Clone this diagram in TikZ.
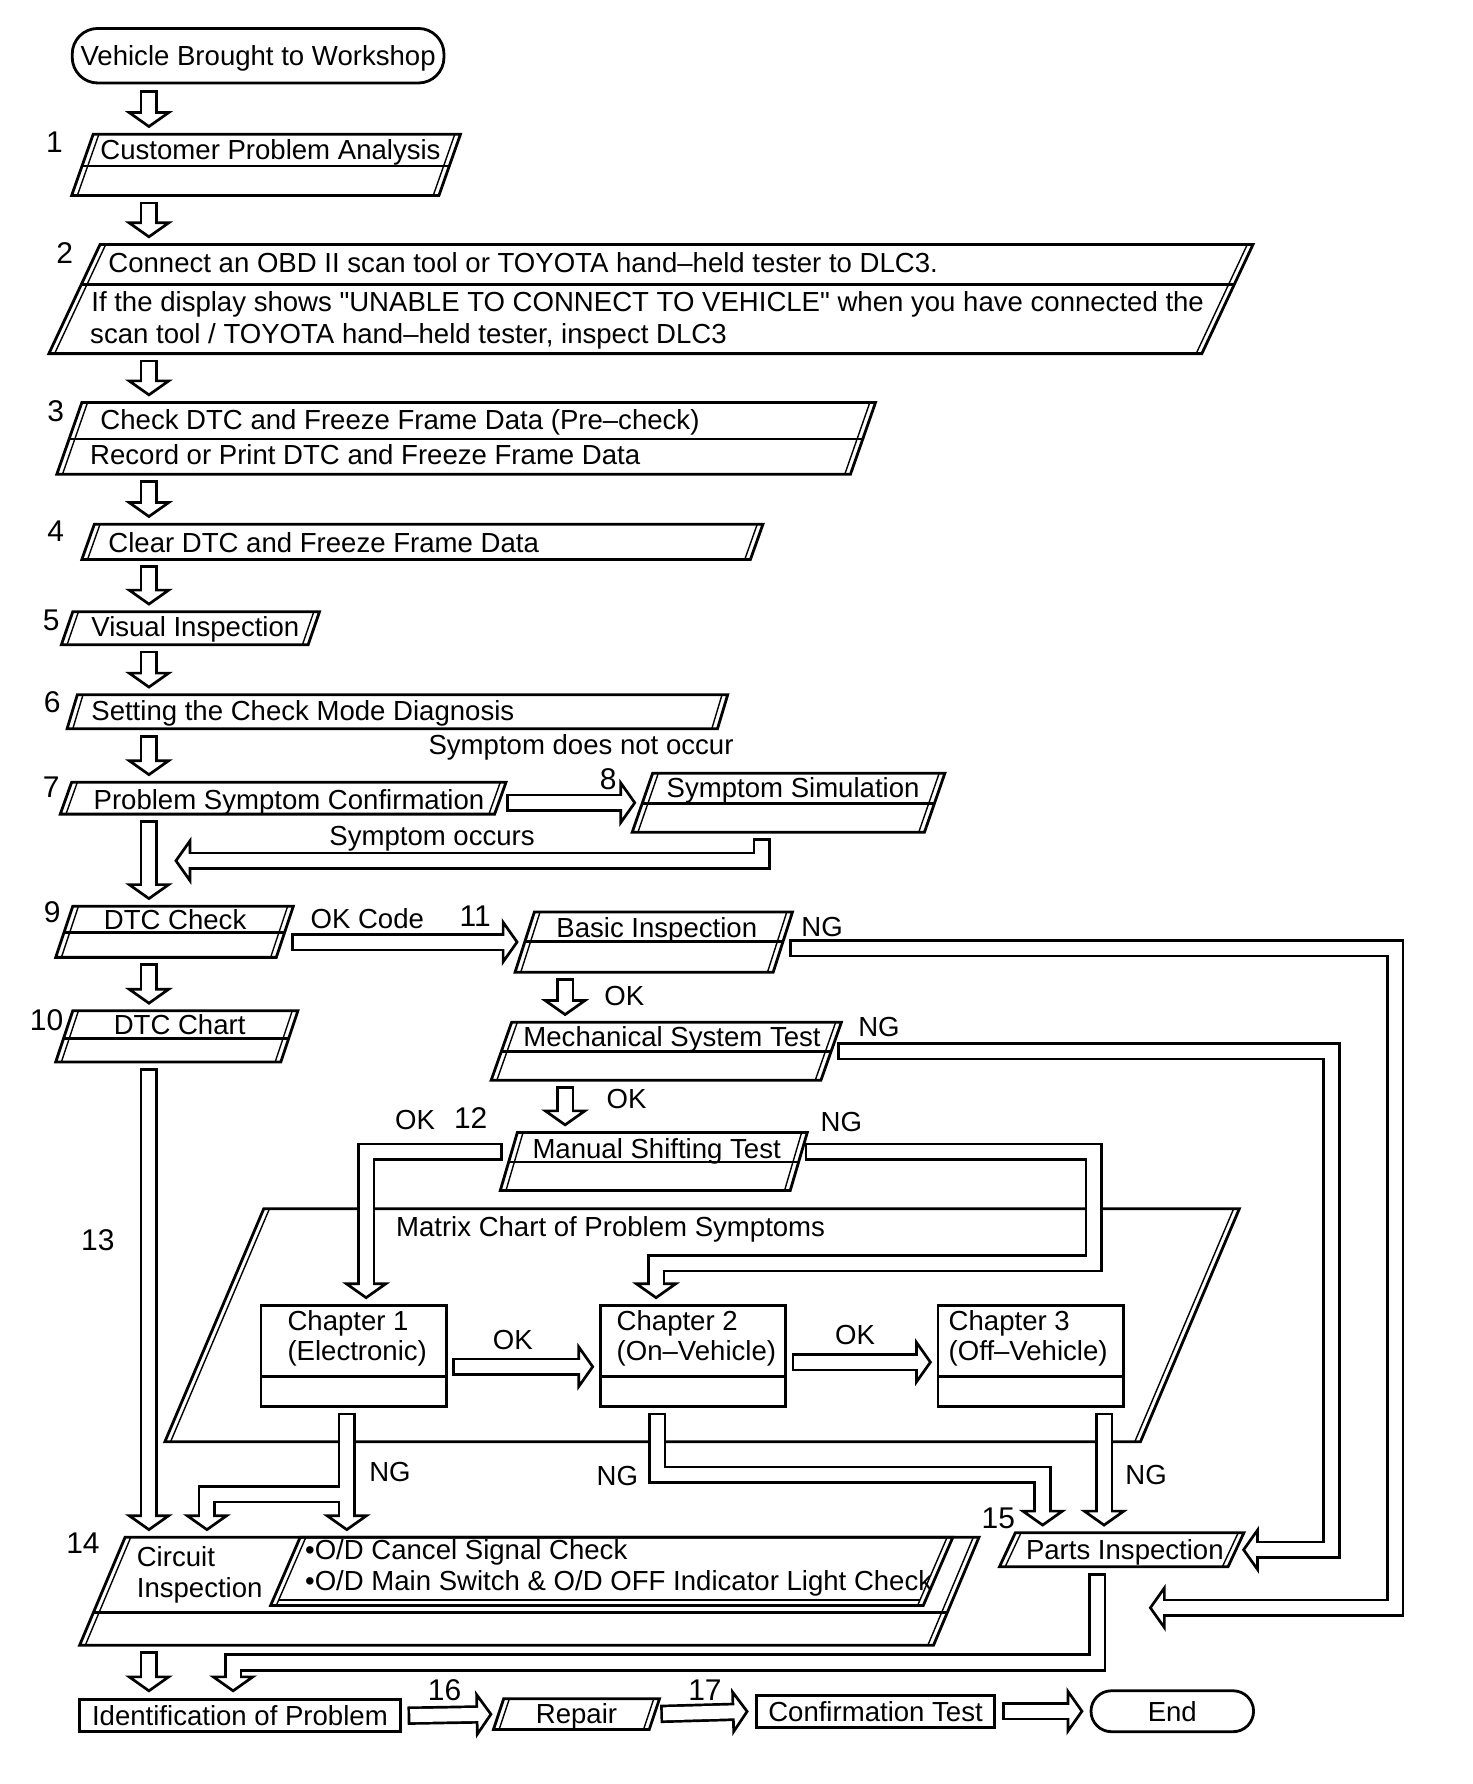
\documentclass[tikz,border=0pt]{standalone}
\usepackage{fontspec}
\setmainfont{Liberation Sans}[Ligatures=TeXOff]
\usetikzlibrary{arrows.meta,calc}

% slanted box: name, top left x, top right x, top y, bottom y, slant, divider y
\newcommand{\slbox}[7]{%
  \coordinate (#1-a) at (#2,#4);
  \coordinate (#1-b) at (#3,#4);
  \coordinate (#1-c) at (#3-#6,#5);
  \coordinate (#1-d) at (#2-#6,#5);
  \node[area, minimum width={(#3-#2)*0.02cm}, minimum height={(#5-#4)*0.02cm}] (#1) at ({(#2+#3-#6)/2},{(#4+#5)/2}) {};
  \draw[bline] (#1-a) -- (#1-b) -- (#1-c) -- (#1-d) -- cycle;
  \draw[iline] ($(#1-a)+(5,0)$) -- ($(#1-d)+(5,0)$);
  \draw[iline] ($(#1-b)+(-5,0)$) -- ($(#1-c)+(-5,0)$);
  \ifx\relax#7\relax\else
    \draw[bline] ($(#1-a)!{(#7-#4)/(#5-#4)}!(#1-d)$) -- ($(#1-b)!{(#7-#4)/(#5-#4)}!(#1-c)$);
  \fi
}
% hollow block arrow
\newcommand{\fatarrow}[1]{\draw[fatout] #1; \draw[fatin] #1;}

\begin{document}
\begin{tikzpicture}[x=0.02cm,y=-0.02cm]
\tikzset{
  area/.style={inner sep=0pt, outer sep=0pt},
  txt/.style={inner sep=0pt, anchor=west, font=\fontsize{13.8}{16}\selectfont, text height=9.9pt, text depth=0pt},
  ctr/.style={txt, anchor=center},
  num/.style={ctr, font=\fontsize{15}{17}\selectfont, text height=10.7pt},
  rbox/.style={ctr, draw, line width=1.4pt, minimum height=0.56cm},
  term/.style={rbox, rounded corners=0.36cm},
  bline/.style={line width=1.4pt},
  iline/.style={line width=0.7pt},
  fatout/.style={line width=9.2pt, shorten <=3pt, shorten >=3pt, -{Triangle[fill=white, length=8.5pt, width=23.8pt, line width=1.35pt]}},
  fatin/.style={line width=6.5pt, white, shorten <=4.35pt, shorten >=9pt},
}
\useasboundingbox (0,0) rectangle (1295,1569);

% boxes
\node[term, minimum width=6.54cm, minimum height=0.96cm, rounded corners=0.45cm] (start) at (227,49) {Vehicle Brought to Workshop};

\slbox{cpa}{82}{405}{118}{172}{19}{146}
\node[txt] (cpat) at (88,132) {Customer Problem Analysis};

\slbox{obd}{88}{1102}{215}{311}{45}{250}
\node[txt] (obd1) at (95,231) {Connect an OBD II scan tool or TOYOTA hand–held tester to DLC3.};
\node[txt] (obd2) at (80,265) {If the display shows "UNABLE TO CONNECT TO VEHICLE" when you have connected the};
\node[txt] (obd3) at (79,293) {scan tool / TOYOTA hand–held tester, inspect DLC3};

\slbox{dtcp}{72}{770}{354}{417}{22}{386}
\node[txt] (dtcp1) at (88,369) {Check DTC and Freeze Frame Data (Pre–check)};
\node[txt] (dtcp2) at (79,400) {Record or Print DTC and Freeze Frame Data};

\slbox{clr}{83}{671}{461}{492}{11}{}
\node[txt] (clrt) at (95,477) {Clear DTC and Freeze Frame Data};

\slbox{vis}{64}{281}{538}{567}{10}{}
\node[txt] (vist) at (80,551) {Visual Inspection};

\slbox{chk}{68}{640}{611}{641}{9}{}
\node[txt] (chkt) at (80,625) {Setting the Check Mode Diagnosis};

\slbox{psc}{63}{445}{688}{716}{10}{}
\node[txt] (psct) at (82,703) {Problem Symptom Confirmation};

\slbox{sim}{574}{831}{680}{732}{18}{707}
\node[txt] (simt) at (586,693) {Symptom Simulation};

\slbox{dtc}{64}{258}{797}{842}{15}{820}
\node[ctr] (dtct) at (154,809) {DTC Check};

\slbox{chart}{64}{262}{889}{934}{15}{913}
\node[ctr] (chartt) at (158,901) {DTC Chart};

\slbox{basic}{470}{697}{802}{855}{17}{828}
\node[txt] (basict) at (489,816) {Basic Inspection};

\slbox{mech}{450}{740}{899}{950}{18}{925}
\node[txt] (mecht) at (460,912) {Mechanical System Test};

\slbox{shift}{455}{710}{996}{1047}{15}{1022}
\node[txt] (shiftt) at (468,1010) {Manual Shifting Test};

\slbox{mx}{232}{1090}{1063}{1268}{87}{}
\node[txt] (mxt) at (348,1079) {Matrix Chart of Problem Symptoms};

\foreach \n/\x/\o/\a/\b in {ch1/311/23/Chapter 1/(Electronic), ch2/609.5/14/Chapter 2/(On–Vehicle), ch3/906.5/9/Chapter 3/(Off–Vehicle)} {
  \node[area, draw, line width=1.4pt, minimum width=3.26cm, minimum height=1.78cm] (\n) at (\x,1192.5) {};
  \draw[bline] ($(\n.north west)!0.7!(\n.south west)$) -- ($(\n.north east)!0.7!(\n.south east)$);
  \node[txt] (\n-a) at ($(\n.north west)+(\o,13)$) {\a};
  \node[txt] (\n-b) at ($(\n.north west)+(\o,40)$) {\b};
}

\slbox{cir}{110}{861}{1352}{1447}{40}{1418}
\node[txt] (cir1) at (120,1369) {Circuit};
\node[txt] (cir2) at (120,1396) {Inspection};
\slbox{od}{264}{838}{1352}{1412}{26}{}
\draw[iline] ($(od-d)+(7,-5)$) -- ($(od-c)+(-3,-5)$);
\node[txt] (od1) at (268,1363) {•O/D Cancel Signal Check};
\node[txt] (od2) at (268,1390) {•O/D Main Switch \& O/D OFF Indicator Light Check};

\slbox{parts}{893}{1094}{1348}{1378}{14}{}
\node[txt] (partst) at (902,1363) {Parts Inspection};

\node[rbox, minimum width=5.64cm] (id) at (211,1509) {Identification of Problem};
\slbox{rep}{443}{580}{1494}{1521}{9}{}
\node[ctr] (rept) at (507,1507) {Repair};
\node[rbox, minimum width=4.2cm] (conf) at (770,1505) {Confirmation Test};
\node[term, minimum width=2.86cm, minimum height=0.72cm] (stop) at (1031,1505) {End};

% step numbers
\foreach \t/\x/\y in {1/48/125, 2/57/222, 3/49/361, 4/49/467, 5/45/545, 6/46/617, 7/45/692, 8/535/685, 9/46/802, 10/41/897, 11/418/805, 12/414/983, 13/86/1090, 14/73/1357, 15/878/1335, 16/391/1486, 17/620/1486}
  \node[num] (n\t) at (\x,\y) {\t};

% branch labels
\foreach \n/\t/\x/\y in {lnot/Symptom does not occur/511/655, locc/Symptom occurs/380/735, okc/OK Code/323/808, ok1/OK/549/876, ok2/OK/551/966, ok3/OK/365/985, ng1/NG/723/815, ng2/NG/773/903, ng3/NG/740/986, ok4/OK/451/1178, ok5/OK/752/1174, ng4/NG/343/1294, ng5/NG/543/1298, ng6/NG/1008/1297}
  \node[ctr] (\n) at (\x,\y) {\t};

% arrows
\coordinate (lc) at (131,0);
\coordinate (mc) at (497,0);
\fatarrow{(start.south -| lc) -- (cpa.north -| lc)}
\fatarrow{(cpa.south -| lc) -- (obd.north -| lc)}
\fatarrow{(obd.south -| lc) -- (dtcp.north -| lc)}
\fatarrow{(dtcp.south -| lc) -- (clr.north -| lc)}
\fatarrow{(clr.south -| lc) -- (vis.north -| lc)}
\fatarrow{(vis.south -| lc) -- (chk.north -| lc)}
\fatarrow{(chk.south -| lc) -- (psc.north -| lc)}
\fatarrow{(psc.south -| lc) -- (dtc.north -| lc)}
\fatarrow{(dtc.south -| lc) -- (chart.north -| lc)}
\fatarrow{(chart.south -| lc) -- (cir.north -| lc)}
\fatarrow{(cir.south -| lc) -- (id.north -| lc)}

\fatarrow{(sim.west -| psc.east) -- (sim.west)}
\coordinate (occ) at (670,757);
\fatarrow{(sim.south -| occ) -- (occ) -- ($(occ -| lc)+(17,0)$)}

\fatarrow{(dtc.east |- basic.west) -- (basic.west)}
\fatarrow{(basic.south -| mc) -- (mech.north -| mc)}
\fatarrow{(mech.south -| mc) -- (shift.north -| mc)}

\coordinate (pi) at (965,1462);
\coordinate (pi2) at (205,1462);
\coordinate (ngb) at (1227,834);
\coordinate (ngb2) at (1227,1414);
\fatarrow{(ngb -| basic.east) -- (ngb) -- (ngb2) -- ($(ngb2 -| pi)+(40,0)$)}
\coordinate (ngm) at (1171,1363);
\fatarrow{(mech.east) -| (ngm) -- (parts.east)}

\coordinate (oks) at (322,1013);
\fatarrow{(oks -| shift.west) -- (oks) -- (oks |- ch1.north)}
\coordinate (ngs) at (962,1013);
\coordinate (ngs2) at (577,1111);
\fatarrow{(ngs -| shift.east) -- (ngs) |- (ngs2) -- (ngs2 |- ch2.north)}

\fatarrow{($(ch1.east)+(0,9.5)$) -- ($(ch2.west)+(0,9.5)$)}
\fatarrow{($(ch2.east)+(0,5.5)$) -- ($(ch3.west)+(0,5.5)$)}

\coordinate (ngc1) at (305,1314);
\coordinate (ngc1b) at (182,1314);
\draw[fatout] (ch1.south -| ngc1) -- (ngc1 |- cir.north);
\draw[fatout] ($(ngc1)+(8,0)$) -- (ngc1b) -- (ngc1b |- cir.north);
\draw[fatin] (ch1.south -| ngc1) -- (ngc1 |- cir.north);
\draw[fatin] ($(ngc1)+(8,0)$) -- (ngc1b) -- (ngc1b |- cir.north);

\coordinate (ngc2) at (578,1297);
\coordinate (ngc2b) at (917,1297);
\fatarrow{(ch2.south -| ngc2) -- (ngc2) -- (ngc2b) -- (ngc2b |- parts.north)}
\coordinate (ngc3) at (971,0);
\fatarrow{(ch3.south -| ngc3) -- (parts.north -| ngc3)}

\fatarrow{(parts.south -| pi) -- (pi) -- (pi2) -- (pi2 |- id.north)}

\fatarrow{(id.east) -- (rep.west)}
\fatarrow{(rep.east) -- (conf.west)}
\fatarrow{(conf.east) -- (stop.west)}
\end{tikzpicture}
\end{document}
